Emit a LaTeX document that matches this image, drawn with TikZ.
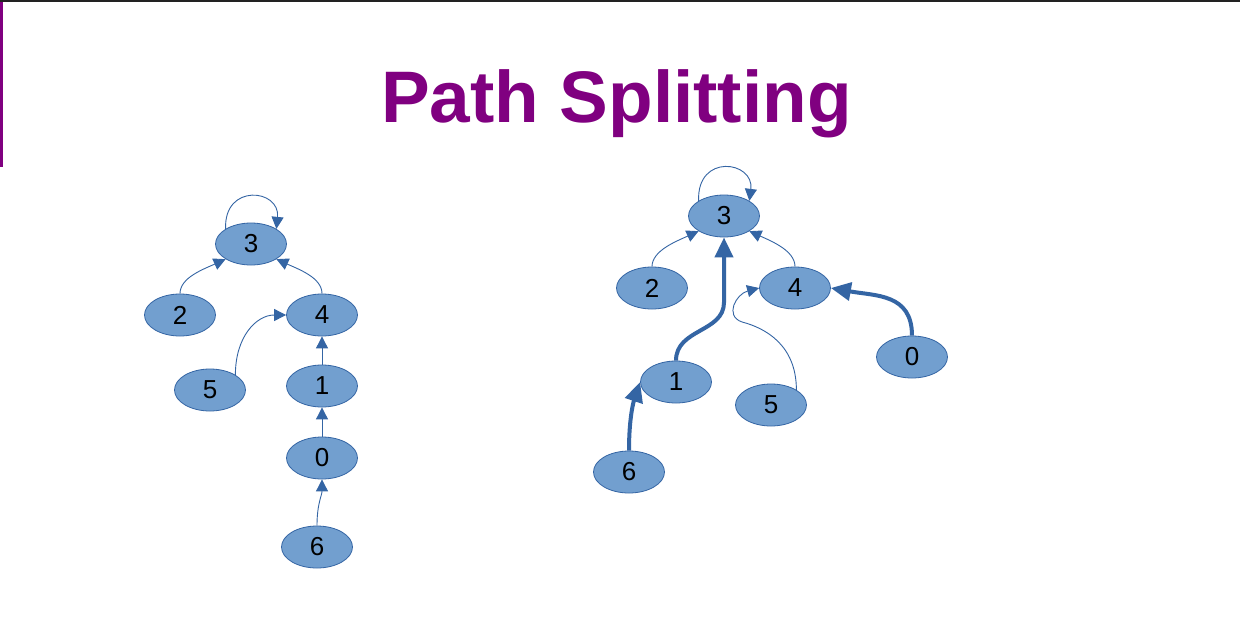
\documentclass[tikz,border=0pt]{standalone}
\usepackage{fontspec}
\setmainfont{Liberation Sans}
\usetikzlibrary{shapes.geometric,arrows.meta,calc}
\definecolor{titlepurple}{HTML}{800080}
\definecolor{nodefill}{HTML}{729FCF}
\definecolor{edgeblue}{HTML}{3465A4}
\definecolor{topline}{HTML}{222222}
\tikzset{
  vtx/.style={ellipse, draw=edgeblue, line width=0.8pt, fill=nodefill,
    minimum width=71pt, minimum height=42pt, inner sep=0pt,
    font=\fontsize{26}{26}\selectfont},
  thinedge/.style={draw=edgeblue, line width=0.9pt,
    -{Triangle[length=12pt,width=12pt]}},
  thickedge/.style={draw=edgeblue, line width=4pt,
    -{Triangle[length=20pt,width=18pt]}},
}
\begin{document}
\begin{tikzpicture}[x=1pt,y=-1pt]
\useasboundingbox (0,0) rectangle (1240,641);
\fill[white] (0,0) rectangle (1240,641);
% frame accents
\fill[topline] (0,0) rectangle (1240,2);
\fill[titlepurple] (0,2) rectangle (3,167);
% title
\node[anchor=base, text=titlepurple, inner sep=0pt,
  font=\fontsize{73}{73}\selectfont\bfseries] (title) at (616.5,122) {Path Splitting};

% left forest
\node[vtx] (L3) at (251,244) {3};
\node[vtx] (L2) at (180,315) {2};
\node[vtx] (L4) at (322,315) {4};
\node[vtx] (L5) at (210,390) {5};
\node[vtx] (L1) at (322,386) {1};
\node[vtx] (L0) at (322,458) {0};
\node[vtx] (L6) at (317,547) {6};

\draw[thinedge] (L3.north west) .. controls +(-2,-46) and +(4,-40) .. (L3.north east);
\draw[thinedge] (L2.north) .. controls +(0,-16) and +(-22,10) .. (L3.south west);
\draw[thinedge] (L4.north) .. controls +(0,-16) and +(22,10) .. (L3.south east);
\draw[thinedge] (L5.north east) .. controls +(0,-38) and +(-30,0) .. (L4.west);
\draw[thinedge] (L1.north) -- (L4.south);
\draw[thinedge] (L0.north) -- (L1.south);
\draw[thinedge] (L6.north) .. controls +(0,-22) and +(0,16) .. (L0.south);

% right forest after path splitting
\node[vtx] (R3) at (724,216) {3};
\node[vtx] (R2) at (652,288) {2};
\node[vtx] (R4) at (795,288) {4};
\node[vtx] (R0) at (912,357) {0};
\node[vtx] (R1) at (676,382) {1};
\node[vtx] (R5) at (771,405) {5};
\node[vtx] (R6) at (629,472) {6};

\draw[thinedge] (R3.north west) .. controls +(-2,-48) and +(5,-40) .. (R3.north east);
\draw[thinedge] (R2.north) .. controls +(0,-16) and +(-22,10) .. (R3.south west);
\draw[thinedge] (R4.north) .. controls +(0,-16) and +(22,10) .. (R3.south east);
\draw[thinedge] (R5.north east) .. controls +(0,-45) and +(23,6) .. ($(R4.west)+(-17,34)$)
  .. controls +(-18,-6) and +(-23,6) .. (R4.west);
\draw[thickedge] (R1.north) .. controls +(0,-32) and +(0,30) .. ($(R3.south)+(0,65)$) -- (R3.south);
\draw[thickedge] (R6.north) .. controls +(0,-35) and +(-6,18) .. (R1.west);
\draw[thickedge] (R0.north) .. controls +(0,-42) and +(45,8) .. (R4.east);
\end{tikzpicture}
\end{document}
